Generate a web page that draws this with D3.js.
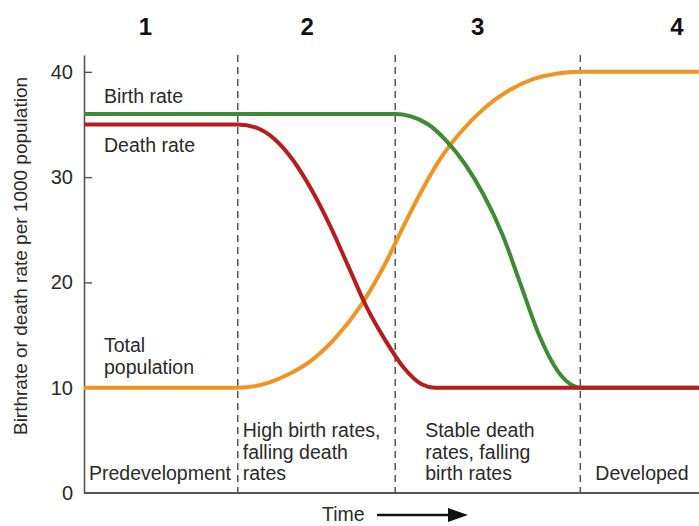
<!DOCTYPE html>
<html>
<head>
<meta charset="utf-8">
<script src="https://cdn.jsdelivr.net/npm/d3@7"></script>
<style>
  body { margin: 0; background: #fff; }
  svg text { font-family: "Liberation Sans", Arial, sans-serif; fill: #2a2a2a; }
</style>
</head>
<body>
<svg id="chart" width="699" height="526"></svg>
<script>
// values (time in arbitrary units 0..100)
var birthT = [0, 50.6, 53, 56, 59, 62, 65, 68, 71, 74, 77, 79.5, 80.7, 100];
var birthV = [36, 36, 35.8, 35, 33.4, 31.2, 28.3, 24.6, 19.8, 15.0, 11.6, 10.2, 10, 10];

var deathT = [0, 25, 28, 31, 34, 37, 40, 43, 46, 49, 52, 55, 57, 100];
var deathV = [35, 35, 34.7, 33.6, 31.6, 28.8, 25.4, 21.5, 17.6, 14.5, 11.9, 10.3, 10, 10];

var popT = [0, 25, 29, 33, 37, 41, 45, 49, 52, 55, 58, 61, 65, 69, 73, 77, 80.7, 100];
var popV = [10, 10, 10.3, 11.2, 12.6, 14.8, 17.8, 21.8, 25.4, 28.8, 31.8, 34.1, 36.5, 38.2, 39.3, 39.85, 40, 40];

var stageBounds = [25, 50.6, 80.7];
var stageNums = ["1", "2", "3", "4"];
var stageNumT = [10, 36.3, 64, 96.4];
var stageText = [
    ["Predevelopment"],
    ["High birth rates,", "falling death", "rates"],
    ["Stable death", "rates, falling", "birth rates"],
    ["Developed"]
];
var yTicks = [0, 10, 20, 30, 40];

var svg = d3.select("svg#chart");
var x = d3.scaleLinear().domain([0, 100]).range([84, 699]);
var y = d3.scaleLinear().domain([0, 41.6]).range([493, 55]);

function pts(t, v) {
    return t.map(function (d, i) { return [d, v[i]]; });
}

var line = d3.line()
    .x(function (d) { return x(d[0]); })
    .y(function (d) { return y(d[1]); })
    .curve(d3.curveMonotoneX);

// stage dividers
svg.selectAll(".divider")
    .data(stageBounds)
    .enter().append("line")
    .attr("class", "divider")
    .attr("x1", function (d) { return x(d); })
    .attr("x2", function (d) { return x(d); })
    .attr("y1", 55)
    .attr("y2", 498)
    .attr("stroke", "#555")
    .attr("stroke-width", 1.5)
    .attr("stroke-dasharray", "7,5");

// axes
var yAxis = svg.append("g")
    .attr("class", "axis axis--y")
    .attr("transform", "translate(84,0)")
    .call(d3.axisLeft(y)
        .tickValues(yTicks)
        .tickSizeInner(-8)
        .tickSizeOuter(0)
        .tickPadding(11));
yAxis.select(".domain").attr("stroke", "#555").attr("stroke-width", 1.6);
yAxis.selectAll(".tick line").attr("stroke", "#555").attr("stroke-width", 1.4)
    .filter(function (d) { return d === 0; }).remove();
yAxis.selectAll(".tick text")
    .style("font-size", "20px")
    .style("font-family", "'Liberation Sans', Arial, sans-serif")
    .attr("fill", "#2a2a2a");

svg.append("line")
    .attr("x1", 84).attr("x2", 699)
    .attr("y1", 493).attr("y2", 493)
    .attr("stroke", "#555")
    .attr("stroke-width", 1.8);

svg.append("text")
    .attr("transform", "translate(27," + 256 + ") rotate(-90)")
    .style("text-anchor", "middle")
    .style("font-size", "19px")
    .text("Birthrate or death rate per 1000 population");

// series
svg.append("path")
    .datum(pts(popT, popV))
    .attr("d", line)
    .attr("fill", "none")
    .attr("stroke", "#f29422")
    .attr("stroke-width", 4);

svg.append("path")
    .datum(pts(birthT, birthV))
    .attr("d", line)
    .attr("fill", "none")
    .attr("stroke", "#3d8c35")
    .attr("stroke-width", 4);

svg.append("path")
    .datum(pts(deathT, deathV))
    .attr("d", line)
    .attr("fill", "none")
    .attr("stroke", "#b81d1d")
    .attr("stroke-width", 4);

// series labels
svg.append("text").attr("x", 104).attr("y", 103).style("font-size", "19.5px").text("Birth rate");
svg.append("text").attr("x", 104).attr("y", 152).style("font-size", "19.5px").text("Death rate");
svg.append("text").attr("x", 104).attr("y", 352).style("font-size", "19.5px").text("Total");
svg.append("text").attr("x", 104).attr("y", 374).style("font-size", "19.5px").text("population");

// stage numbers
svg.selectAll(".stage-num")
    .data(stageNums)
    .enter().append("text")
    .attr("class", "stage-num")
    .attr("x", function (d, i) { return x(stageNumT[i]); })
    .attr("y", 35)
    .style("text-anchor", "middle")
    .style("font-size", "24px")
    .style("font-weight", "bold")
    .style("fill", "#111")
    .text(function (d) { return d; });

// stage descriptions
var stageStart = [0].concat(stageBounds);
stageText.forEach(function (lines, i) {
    var t = svg.append("text")
        .attr("x", x(stageStart[i]) + (i === 0 ? 5 : i === 2 ? 30 : i === 3 ? 15 : 5))
        .style("font-size", "19.5px");
    lines.forEach(function (s, j) {
        t.append("tspan")
            .attr("x", t.attr("x"))
            .attr("y", 480 - (lines.length - 1 - j) * 21.5)
            .text(s);
    });
});

// time arrow
svg.append("text").attr("x", 322).attr("y", 521).style("font-size", "19.5px").text("Time");
svg.append("line")
    .attr("x1", 377).attr("x2", 452)
    .attr("y1", 515).attr("y2", 515)
    .attr("stroke", "#111")
    .attr("stroke-width", 2.5);
svg.append("path")
    .attr("d", "M448,508 L468,515 L448,522 Z")
    .attr("fill", "#111");
</script>
</body>
</html>
